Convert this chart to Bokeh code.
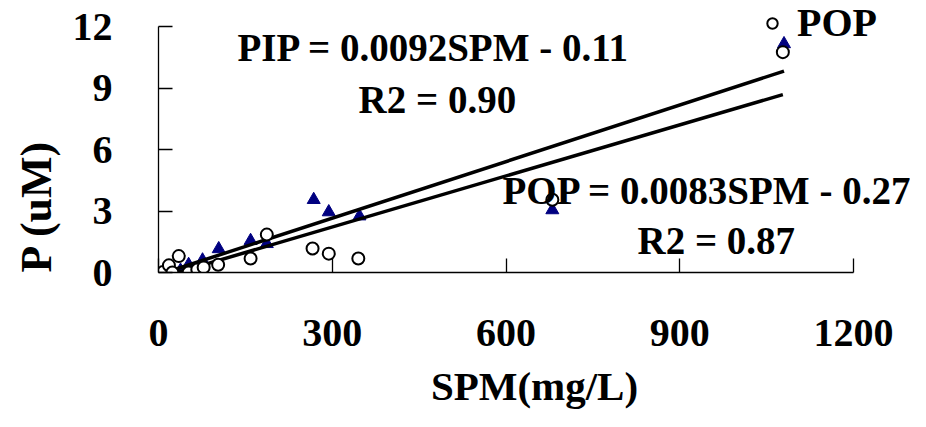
import numpy as np
from bokeh.plotting import figure
from bokeh.models import Label, Legend, LegendItem, FixedTicker, Range1d, Title
from bokeh.embed import file_html
from bokeh.resources import INLINE

# ---- data ----
spm_pip = [8, 22, 38, 52, 76, 104, 159, 187, 268, 294, 347, 680, 1080]
pip = [0.0, 0.05, 0.1, 0.38, 0.6, 1.15, 1.55, 1.4, 3.55, 2.95, 2.75, 3.05, 11.15]

spm_pop = [8, 18, 24, 35, 52, 67, 78, 103, 159, 187, 266, 294, 345, 680, 1078]
pop = [0.02, 0.35, 0.0, 0.8, 0.0, 0.15, 0.25, 0.38, 0.68, 1.85, 1.17, 0.92, 0.68, 3.55, 10.75]

pip_slope, pip_intercept = 0.0092, -0.11
pop_slope, pop_intercept = 0.0083, -0.27

x_ticks = [0, 300, 600, 900, 1200]
y_ticks = [0, 3, 6, 9, 12]

FONT = "Liberation Serif"

# frame spans to the top/right canvas edges; axes are bounded to 0-1200 / 0-12
p = figure(width=910, height=411, title=None,
           x_range=Range1d(0, 1298.4), y_range=Range1d(0, 13.27),
           output_backend="svg", toolbar_location=None,
           min_border_left=158, min_border_right=0,
           min_border_top=0, min_border_bottom=139)
p.outline_line_color = None
p.grid.visible = False
p.background_fill_color = "white"
p.border_fill_color = "white"

p.xaxis.ticker = FixedTicker(ticks=x_ticks)
p.yaxis.ticker = FixedTicker(ticks=y_ticks)
p.xaxis.bounds = (0, 1200)
p.yaxis.bounds = (0, 12)
for ax in (p.xaxis[0], p.yaxis[0]):
    ax.axis_line_color = "black"
    ax.axis_line_width = 1.3
    ax.major_tick_line_color = "black"
    ax.major_tick_line_width = 1.3
    ax.major_tick_in = 14
    ax.major_tick_out = 0
    ax.minor_tick_line_color = None
    ax.major_label_text_font = FONT
    ax.major_label_text_font_style = "bold"
    ax.major_label_text_font_size = "40px"
    ax.major_label_text_color = "black"
p.yaxis.major_label_standoff = 46
p.xaxis.major_label_standoff = 47

p.xaxis.axis_label = "SPM(mg/L)"
p.xaxis.axis_label_text_font = FONT
p.xaxis.axis_label_text_font_style = "bold"
p.xaxis.axis_label_text_font_size = "41px"
p.xaxis.axis_label_text_color = "black"
p.xaxis.axis_label_standoff = 14

ytitle = Title(text="P (uM)", align="left", text_font=FONT, text_font_style="bold",
               text_font_size="44px", text_color="black", standoff=18)
p.add_layout(ytitle, "left")

# PIP triangles
r_pip = p.scatter(spm_pip, pip, marker="triangle", size=13,
                  fill_color="#000080", line_color="#000080")

# trendlines from the printed equations
x_pip = np.array([min(spm_pip), max(spm_pip)], dtype=float)
x_pop = np.array([min(spm_pop), max(spm_pop)], dtype=float)
p.line(x_pip, pip_slope * x_pip + pip_intercept, line_color="black", line_width=3.5)
p.line(x_pop, pop_slope * x_pop + pop_intercept, line_color="black", line_width=3.5)

# POP circles
r_pop = p.scatter(spm_pop, pop, marker="circle", size=12,
                  fill_color="white", line_color="black", line_width=2)

legend = Legend(items=[LegendItem(label="POP", renderers=[r_pop])],
                location=(601, 226), padding=0, margin=0,
                border_line_color=None, background_fill_alpha=0,
                glyph_width=26, glyph_height=26, label_standoff=12,
                label_text_font=FONT, label_text_font_style="bold",
                label_text_font_size="40px", label_text_color="black")
p.add_layout(legend)

def add_text(x, y, text, size="39px", **kw):
    p.add_layout(Label(x=x, y=y, text=text, text_font=FONT,
                       text_font_style="bold", text_font_size=size,
                       text_color="black", **kw))

add_text(136.4, 10.97, "PIP = 0.0092SPM - 0.11", text_align="left", text_baseline="alphabetic")
add_text(345.3, 8.43, "R2 = 0.90", text_align="left", text_baseline="alphabetic")
add_text(594.0, 4.00, "POP = 0.0083SPM - 0.27", text_align="left", text_baseline="alphabetic")
add_text(827.0, 1.56, "R2 = 0.87", text_align="left", text_baseline="alphabetic")

open("out.html", "w").write(file_html(p, INLINE))
